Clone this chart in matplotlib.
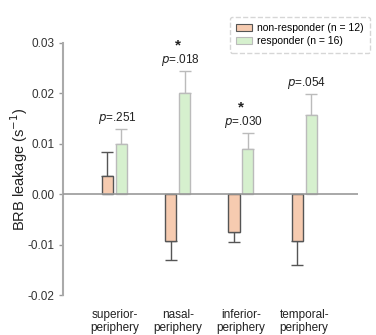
import numpy as np
import matplotlib
matplotlib.use("Agg")
import matplotlib.pyplot as plt
from matplotlib.patches import Patch

plt.rcParams["font.family"] = ["Liberation Sans", "DejaVu Sans"]

regions = ["superior-\nperiphery", "nasal-\nperiphery", "inferior-\nperiphery", "temporal-\nperiphery"]
non_resp = [0.0036, -0.0093, -0.0075, -0.0093]
non_resp_err = [0.0047, 0.0038, 0.0020, 0.0047]
resp = [0.0099, 0.0201, 0.0089, 0.0158]
resp_err = [0.0030, 0.0043, 0.0032, 0.0041]
p_labels = [".251", ".018", ".030", ".054"]
significant = [False, True, True, False]

C_NON = "#f6cbb0"
C_RESP = "#d6f0ce"
EDGE_NON = "#555555"
EDGE_RESP = "#bbbbbb"

fig = plt.figure(figsize=(3.76, 3.35), dpi=100)
ax = fig.add_axes([0.168, 0.119, 0.784, 0.753])

x = np.arange(len(regions))
w = 0.175
off = 0.11

ax.bar(x - off, non_resp, w, color=C_NON, edgecolor=EDGE_NON, linewidth=1.0, zorder=2)
ax.bar(x + off, resp, w, color=C_RESP, edgecolor=EDGE_RESP, linewidth=1.0, zorder=2)

# einseitige Fehlerbalken (nur in Richtung des Balkens)
for i in range(len(x)):
    v, e = non_resp[i], non_resp_err[i]
    yerr = [[0], [e]] if v >= 0 else [[e], [0]]
    ax.errorbar(x[i] - off, v, yerr=yerr, fmt="none", ecolor=EDGE_NON,
                elinewidth=1.0, capsize=4, capthick=1.0, zorder=1)
    v, e = resp[i], resp_err[i]
    yerr = [[0], [e]] if v >= 0 else [[e], [0]]
    ax.errorbar(x[i] + off, v, yerr=yerr, fmt="none", ecolor=EDGE_RESP,
                elinewidth=1.0, capsize=4, capthick=1.0, zorder=1)

# p-Werte und Sterne
for i in range(len(x)):
    top = max(non_resp[i] + (non_resp_err[i] if non_resp[i] > 0 else 0),
              resp[i] + resp_err[i])
    y_txt = top + 0.0022
    ax.text(x[i] + 0.04, y_txt, f"$p$={p_labels[i]}", ha="center", va="center",
            fontsize=8.5, color="#222222")
    if significant[i]:
        ax.text(x[i] + 0.0, y_txt + 0.0028, "*", ha="center", va="center",
                fontsize=11, fontweight="bold", color="#222222")

ax.axhline(0, color="#999999", linewidth=1.2, zorder=3)

ax.set_xlim(-0.81, 3.85)
ax.set_ylim(-0.02, 0.03)
ax.set_yticks([-0.02, -0.01, 0.0, 0.01, 0.02, 0.03])
ax.set_yticklabels(["-0.02", "-0.01", "0.00", "0.01", "0.02", "0.03"])
ax.set_xticks(x)
ax.set_xticklabels(regions, fontsize=8.5, color="#222222", linespacing=1.1)
ax.tick_params(axis="x", length=0, pad=10)
ax.tick_params(axis="y", labelsize=8.5, labelcolor="#333333", color="#999999",
               length=3, width=1)
ax.set_ylabel("BRB leakage (s$^{-1}$)", fontsize=10.5, color="#222222")
ax.yaxis.set_label_coords(-0.112, 0.5)

for s in ["top", "right", "bottom"]:
    ax.spines[s].set_visible(False)
ax.spines["left"].set_color("#aaaaaa")
ax.spines["left"].set_linewidth(1.5)

handles = [Patch(facecolor=C_NON, edgecolor=EDGE_NON, linewidth=0.8),
           Patch(facecolor=C_RESP, edgecolor=EDGE_RESP, linewidth=0.8)]
leg = fig.legend(handles, ["non-responder (n = 12)", "responder (n = 16)"],
                 loc="upper right", bbox_to_anchor=(0.997, 0.965), fontsize=7.5,
                 frameon=True, fancybox=True, handlelength=1.5, handleheight=0.6,
                 handletextpad=0.5, labelspacing=0.3, borderpad=0.6)
frame = leg.get_frame()
frame.set_edgecolor("#cccccc")
frame.set_linestyle("--")
frame.set_linewidth(1.0)

fig.savefig("out.png", dpi=100)
